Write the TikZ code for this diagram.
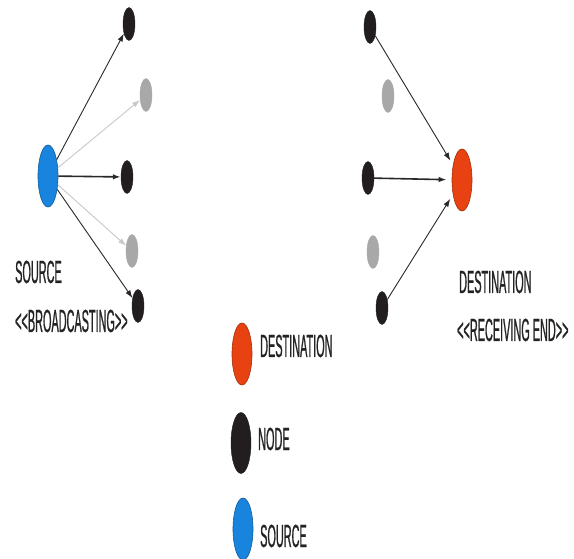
\documentclass[tikz,border=0pt]{standalone}
\usepackage{fontspec}
\setmainfont{Liberation Sans}[FakeStretch=0.34, FakeBold=0.6]
\usetikzlibrary{shapes.geometric,arrows.meta}

\definecolor{srcblue}{RGB}{24,132,222}
\definecolor{dstred}{RGB}{232,66,18}
\definecolor{nodeblack}{RGB}{34,30,31}
\definecolor{idlegray}{RGB}{168,168,168}
\definecolor{linkdark}{RGB}{40,40,40}
\definecolor{linkgray}{RGB}{200,200,200}
\definecolor{textdark}{RGB}{35,35,35}

% two separate angle brackets, kept apart so no guillemet ligature forms
\newcommand{\openrole}{<\kern0pt<}
\newcommand{\closerole}{>\kern0pt>}

\tikzset{
  big/.style={ellipse, inner sep=0pt, minimum width=20pt, minimum height=62pt, line width=0.6pt},
  srcnode/.style={big, fill=srcblue, draw=srcblue!70!black},
  dstnode/.style={big, fill=dstred, draw=dstred!70!black},
  hop/.style={ellipse, inner sep=0pt, minimum width=12pt, minimum height=33pt, fill=nodeblack, draw=nodeblack},
  idle/.style={hop, fill=idlegray, draw=idlegray},
  link/.style={draw=linkdark, line width=0.9pt, -{Latex[length=8pt,width=5.5pt]}},
  faint/.style={link, draw=linkgray},
  heavy/.style={link, line width=1.6pt},
  label/.style={font=\fontsize{32}{38}\selectfont, inner sep=0pt, anchor=base west, text=textdark}
}

\begin{document}
\begin{tikzpicture}[x=1pt,y=-1pt]
\useasboundingbox (0,0) rectangle (574,559);

% broadcasting source and its fan of hops
\node[srcnode] (src) at (48,176) {};
\node[hop]  (l1) at (129,24) {};
\node[idle] (l2) at (146,95) {};
\node[hop]  (l3) at (127,177) {};
\node[idle] (l4) at (132,251) {};
\node[hop]  (l5) at (138,306) {};

\draw[link]  (src) -- (l1);
\draw[faint] (src) -- (l2);
\draw[heavy] (src) -- (l3);
\draw[faint] (src) -- (l4);
\draw[link]  (src) -- (l5);

\node[label] (srcname) at (15,283) {SOURCE};
\node[label] (srcrole) at (15,332) {\openrole BROADCASTING\closerole};

% receiving destination
\node[dstnode] (dst) at (462,180) {};
\node[hop]  (r1) at (370,27) {};
\node[idle] (r2) at (388,96) {};
\node[hop]  (r3) at (368,178) {};
\node[idle] (r4) at (373,252) {};
\node[hop]  (r5) at (382,308) {};

\draw[link, shorten >=5pt]  (r1) -- (dst);
\draw[heavy, shorten >=5pt] (r3) -- (dst);
\draw[link, shorten >=5pt]  (r5) -- (dst);

\node[label] (dstname) at (459,293) {DESTINATION};
\node[label] (dstrole) at (457,341) {\openrole RECEIVING END\closerole};

% legend
\node[dstnode] (kd) at (242,354) {};
\node[hop, minimum width=20pt, minimum height=61pt] (kn) at (241,443) {};
\node[srcnode] (ks) at (243,529) {};

\node[label] (kdl) at (260,357) {DESTINATION};
\node[label] (knl) at (258,450) {NODE};
\node[label] (ksl) at (260,547) {SOURCE};
\end{tikzpicture}
\end{document}
